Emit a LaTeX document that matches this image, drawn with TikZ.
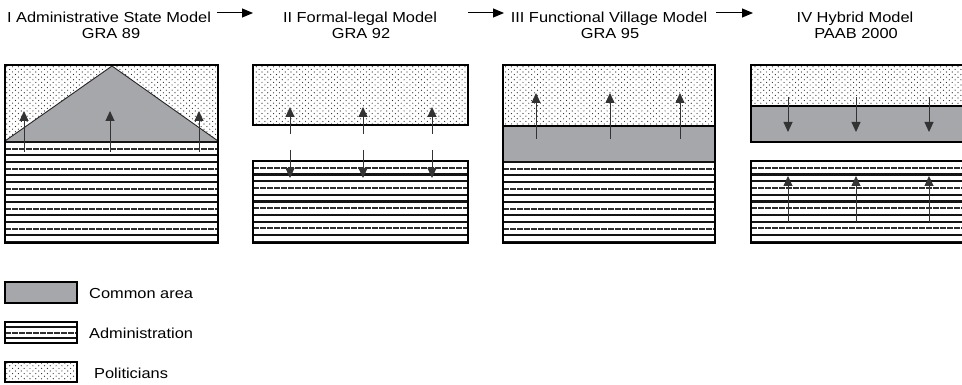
\documentclass[tikz,border=0pt]{standalone}
\usepackage{fontspec}
\setmainfont{Liberation Sans}
\newfontfamily\labelfont[FakeStretch=1.13]{Liberation Sans}
\usetikzlibrary{arrows.meta,patterns}

% staggered dot texture for the politicians' area
\pgfdeclarepatternformonly{polidots}{\pgfqpoint{-1pt}{-1pt}}{\pgfqpoint{7pt}{7pt}}{\pgfqpoint{5.8pt}{5.2pt}}{%
  \pgfpathcircle{\pgfqpoint{1pt}{1pt}}{0.6pt}%
  \pgfpathcircle{\pgfqpoint{3.9pt}{3.6pt}}{0.6pt}%
  \pgfusepath{fill}}

\definecolor{commongray}{RGB}{166,167,170}
\definecolor{dotgray}{RGB}{40,40,40}

\tikzset{
  frame/.style={draw=black, line width=2pt},
  legendframe/.style={draw=black, line width=1.6pt},
  politicians/.style={pattern=polidots, pattern color=dotgray},
  commonarea/.style={fill=commongray},
  stripe/.style={draw=black!92, line width=2.3pt},
  thinstripe/.style={draw=black!82, line width=2pt, dash pattern=on 6pt off 1pt},
  divider/.style={draw=black, line width=1.8pt},
  flow/.style={draw=black!80, line width=0.9pt, -{Triangle[width=9pt,length=10pt]}},
  seq/.style={draw=black, line width=1pt, -{Triangle[width=9pt,length=11pt]}},
  title/.style={font=\labelfont\fontsize{14.5}{17}\selectfont, anchor=base, inner sep=0pt},
  legendtext/.style={font=\labelfont\fontsize{14.5}{17}\selectfont, anchor=base west, inner sep=0pt},
}

% horizontal rules of the administration area: x1, x2, ytop, ybottom, intervals
\newcommand\adminrules[5]{%
  \foreach \k in {0,...,#5}{%
    \pgfmathsetmacro\yy{#3+(#4-#3)*\k/#5}%
    \pgfmathtruncatemacro\mm{mod(\k,3)}%
    \ifnum\mm=1
      \draw[thinstripe] (#1,\yy) -- (#2,\yy);
    \else
      \draw[stripe] (#1,\yy) -- (#2,\yy);
    \fi
  }}

\begin{document}
\begin{tikzpicture}[x=1pt,y=-1pt]
  \clip (0,0) rectangle (962,385);
  \fill[white] (0,0) rectangle (962,385);

  % ---------- titles ----------
  \node[title] (t1) at (109,23) {I Administrative State Model};
  \node[title] (g1) at (111,39) {GRA 89};
  \node[title] (t2) at (360,23) {II Formal-legal Model};
  \node[title] (g2) at (361,39) {GRA 92};
  \node[title] (t3) at (609,23) {III Functional Village Model};
  \node[title] (g3) at (610,39) {GRA 95};
  \node[title] (t4) at (855,23) {IV Hybrid Model};
  \node[title] (g4) at (856,39) {PAAB 2000};

  \coordinate (s1a) at (217,13);  \coordinate (s1b) at (253,13);
  \coordinate (s2a) at (468,13);  \coordinate (s2b) at (504,13);
  \coordinate (s3a) at (716,13);  \coordinate (s3b) at (753,13);
  \draw[seq] (s1a) -- (s1b);
  \draw[seq] (s2a) -- (s2b);
  \draw[seq] (s3a) -- (s3b);

  % ---------- I : administrative state model ----------
  \path[politicians] (5,65) rectangle (218,142);
  \fill[commongray] (5,141) -- (112,66) -- (218,141) -- cycle;
  \draw[black!85, line width=0.9pt] (5,141) -- (112,66) -- (218,141);
  \adminrules{5}{218}{142}{242}{15}
  \draw[frame] (5,65) rectangle (218,243);
  \foreach \x in {24,110,199} \draw[flow] (\x,152) -- (\x,111);

  % ---------- II : formal-legal model ----------
  \path[politicians] (253,65) rectangle (468,125);
  \draw[frame] (253,65) rectangle (468,125);
  \adminrules{253}{468}{161}{242}{12}
  \draw[frame] (253,161) rectangle (468,243);
  \foreach \x in {290,363,432}{
    \draw[flow] (\x,134) -- (\x,107);
    \draw[flow] (\x,150) -- (\x,178);
  }

  % ---------- III : functional village model ----------
  \path[politicians] (503,65) rectangle (715,126);
  \fill[commongray] (503,126) rectangle (715,162);
  \draw[divider] (503,126) -- (715,126);
  \adminrules{503}{715}{162}{242}{12}
  \draw[frame] (503,65) rectangle (715,243);
  \foreach \x in {536,610,680} \draw[flow] (\x,139) -- (\x,93);

  % ---------- IV : hybrid model ----------
  \path[politicians] (751,65) rectangle (975,106);
  \fill[commongray] (751,106) rectangle (975,142);
  \draw[divider] (751,106) -- (975,106);
  \draw[frame] (751,65) rectangle (975,142);
  \adminrules{751}{975}{161}{242}{12}
  \draw[frame] (751,161) rectangle (975,243);
  \foreach \x in {788,856,929}{
    \draw[flow] (\x,97) -- (\x,132);
    \draw[flow] (\x,222) -- (\x,176);
  }

  % ---------- legend ----------
  \path[commonarea] (5,282) rectangle (77,303);
  \draw[legendframe] (5,282) rectangle (77,303);
  \node[legendtext] (lc) at (89,298) {Common area};

  \draw[stripe] (5,327.25) -- (77,327.25);
  \draw[thinstripe] (5,332.5) -- (77,332.5);
  \draw[stripe] (5,337.75) -- (77,337.75);
  \draw[legendframe] (5,322) rectangle (77,343);
  \node[legendtext] (la) at (89,338.5) {Administration};

  \path[politicians] (5,362) rectangle (77,382);
  \draw[legendframe] (5,362) rectangle (77,382);
  \node[legendtext] (lp) at (94,378) {Politicians};
\end{tikzpicture}
\end{document}
